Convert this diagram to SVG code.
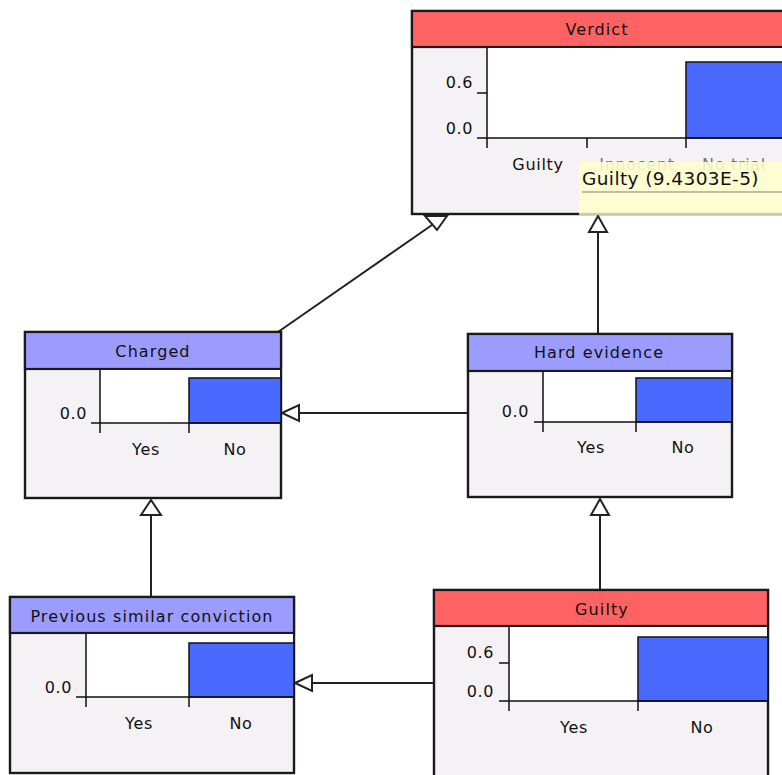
<svg xmlns="http://www.w3.org/2000/svg" width="782" height="775" viewBox="0 0 782 775">
<style>
.box{fill:#f5f2f5;stroke:#1a1a1a;stroke-width:2.4}
.hr{fill:#ff6262;stroke:#1a1a1a;stroke-width:2.2}
.hb{fill:#9c9cff;stroke:#1a1a1a;stroke-width:2.2}
.plot{fill:#fff;stroke:none}
.bar{fill:#4a6aff;stroke:#111;stroke-width:1.5}
.ax{stroke:#111;stroke-width:1.5;fill:none}
.ttl{font-family:"DejaVu Sans",sans-serif;font-size:16px;letter-spacing:1.1px;fill:#111;text-anchor:middle}
.lbl{font-family:"DejaVu Sans",sans-serif;font-size:16px;letter-spacing:0.7px;fill:#111;text-anchor:middle}
.num{font-family:"DejaVu Sans",sans-serif;font-size:16px;letter-spacing:0.6px;fill:#111;text-anchor:end}
.con{stroke:#222;stroke-width:2;fill:none}
.arr{fill:#fff;stroke:#222;stroke-width:2;stroke-linejoin:miter}
</style>
<rect width="782" height="775" fill="#fff"/>
<g id="connectors">
<line class="con" x1="278" y1="332" x2="432" y2="225"/>
<polygon class="arr" points="425,216 447,216 437,230"/>
<line class="con" x1="598" y1="334" x2="598" y2="232"/>
<polygon class="arr" points="598,216 589,232 607,232"/>
<line class="con" x1="468" y1="413" x2="299" y2="413"/>
<polygon class="arr" points="282,413 299,405 299,421"/>
<line class="con" x1="600" y1="590" x2="600" y2="515"/>
<polygon class="arr" points="600,499 591,515 609,515"/>
<line class="con" x1="434" y1="683" x2="312" y2="683"/>
<polygon class="arr" points="295,683 312,675 312,691"/>
<line class="con" x1="151" y1="597" x2="151" y2="515"/>
<polygon class="arr" points="151,500 141,515 161,515"/>
</g>
<g id="verdict">
<rect class="box" x="412" y="11" width="420" height="203"/>
<rect class="hr" x="412" y="11" width="420" height="36"/>
<text class="ttl" x="597" y="35">Verdict</text>
<rect class="plot" x="487" y="48" width="300" height="90"/>
<rect class="bar" x="686" y="62" width="120" height="76"/>
<path class="ax" d="M487,48V148M477,138H790M587,138V148M686,138V148M477,93H487"/>
<text class="num" x="473" y="88">0.6</text>
<text class="num" x="473" y="134">0.0</text>
<text class="lbl" x="538" y="170">Guilty</text>
<text class="lbl" x="637" y="170" style="fill:#777">Innocent</text>
<text class="lbl" x="734" y="170" style="fill:#777">No trial</text>
</g>
<g id="tooltip">
<rect x="579" y="162" width="210" height="53" fill="#ffffcc" fill-opacity="0.86"/>
<line x1="579" y1="214" x2="790" y2="214" stroke="#c8c8b0" stroke-width="2"/>
<line x1="582" y1="192" x2="790" y2="192" stroke="#a8a898" stroke-width="1.5"/>
<text x="582" y="185" font-family="DejaVu Sans, sans-serif" font-size="18.5px" letter-spacing="0.4px" fill="#111">Guilty (9.4303E-5)</text>
</g>
<g id="charged">
<rect class="box" x="25" y="332" width="256" height="166"/>
<rect class="hb" x="25" y="332" width="256" height="37"/>
<text class="ttl" x="153" y="357">Charged</text>
<rect class="plot" x="100" y="370" width="180" height="53"/>
<rect class="bar" x="189" y="378" width="92" height="45"/>
<path class="ax" d="M100,370V433M91,423H281M189,423V433"/>
<text class="num" x="87" y="419">0.0</text>
<text class="lbl" x="146" y="455">Yes</text>
<text class="lbl" x="235" y="455">No</text>
</g>
<g id="hard-evidence">
<rect class="box" x="468" y="334" width="264" height="163"/>
<rect class="hb" x="468" y="334" width="264" height="37"/>
<text class="ttl" x="599" y="358">Hard evidence</text>
<rect class="plot" x="543" y="372" width="188" height="50"/>
<rect class="bar" x="636" y="378" width="96" height="44"/>
<path class="ax" d="M543,372V432M534,422H732M636,422V432"/>
<text class="num" x="529" y="417">0.0</text>
<text class="lbl" x="591" y="453">Yes</text>
<text class="lbl" x="683" y="453">No</text>
</g>
<g id="previous-similar-conviction">
<rect class="box" x="10" y="597" width="284" height="176"/>
<rect class="hb" x="10" y="597" width="284" height="36"/>
<text class="ttl" x="152" y="622">Previous similar conviction</text>
<rect class="plot" x="86" y="634" width="207" height="63"/>
<rect class="bar" x="189" y="643" width="105" height="54"/>
<path class="ax" d="M86,634V707M76,697H294M189,697V707"/>
<text class="num" x="72" y="693">0.0</text>
<text class="lbl" x="139" y="729">Yes</text>
<text class="lbl" x="241" y="729">No</text>
</g>
<g id="guilty">
<rect class="box" x="434" y="590" width="334" height="200"/>
<rect class="hr" x="434" y="590" width="334" height="36"/>
<text class="ttl" x="602" y="615">Guilty</text>
<rect class="plot" x="509" y="627" width="258" height="74"/>
<rect class="bar" x="638" y="637" width="130" height="64"/>
<path class="ax" d="M509,627V711M499,701H768M638,701V711M499,663H509"/>
<text class="num" x="494" y="658">0.6</text>
<text class="num" x="494" y="697">0.0</text>
<text class="lbl" x="574" y="733">Yes</text>
<text class="lbl" x="702" y="733">No</text>
</g>
</svg>
